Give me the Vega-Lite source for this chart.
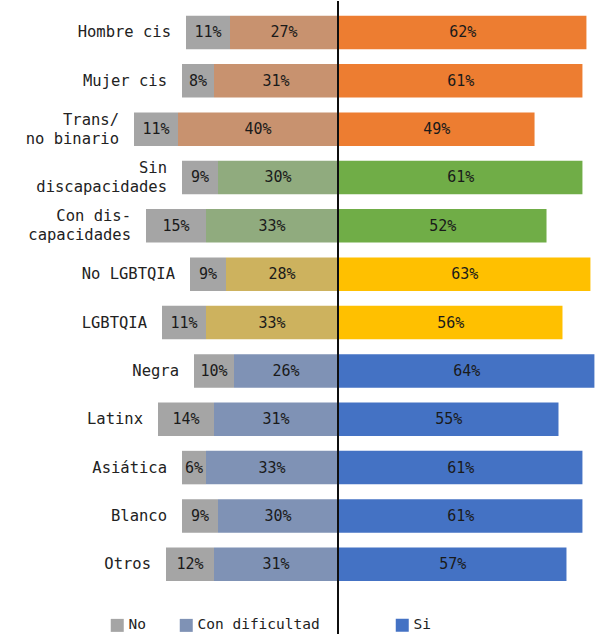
{
  "$schema": "https://vega.github.io/schema/vega-lite/v6.json",
  "padding": 0,
  "spacing": 0,
  "background": "white",
  "config": {"view": {"stroke": null}, "concat": {"spacing": 0}},
  "datasets": {
    "d": [
      {"cat": "Hombre cis", "resp": "No", "serie": "No", "pct": 0.11},
      {"cat": "Hombre cis", "resp": "Con dificultad", "serie": "CD Género", "pct": 0.27},
      {"cat": "Hombre cis", "resp": "Si", "serie": "Si Género", "pct": 0.62},
      {"cat": "Mujer cis", "resp": "No", "serie": "No", "pct": 0.08},
      {"cat": "Mujer cis", "resp": "Con dificultad", "serie": "CD Género", "pct": 0.31},
      {"cat": "Mujer cis", "resp": "Si", "serie": "Si Género", "pct": 0.61},
      {"cat": "Trans/\nno binario", "resp": "No", "serie": "No", "pct": 0.11},
      {"cat": "Trans/\nno binario", "resp": "Con dificultad", "serie": "CD Género", "pct": 0.40},
      {"cat": "Trans/\nno binario", "resp": "Si", "serie": "Si Género", "pct": 0.49},
      {"cat": "Sin\ndiscapacidades", "resp": "No", "serie": "No", "pct": 0.09},
      {"cat": "Sin\ndiscapacidades", "resp": "Con dificultad", "serie": "CD Discapacidad", "pct": 0.30},
      {"cat": "Sin\ndiscapacidades", "resp": "Si", "serie": "Si Discapacidad", "pct": 0.61},
      {"cat": "Con dis-\ncapacidades", "resp": "No", "serie": "No", "pct": 0.15},
      {"cat": "Con dis-\ncapacidades", "resp": "Con dificultad", "serie": "CD Discapacidad", "pct": 0.33},
      {"cat": "Con dis-\ncapacidades", "resp": "Si", "serie": "Si Discapacidad", "pct": 0.52},
      {"cat": "No LGBTQIA", "resp": "No", "serie": "No", "pct": 0.09},
      {"cat": "No LGBTQIA", "resp": "Con dificultad", "serie": "CD LGBTQIA", "pct": 0.28},
      {"cat": "No LGBTQIA", "resp": "Si", "serie": "Si LGBTQIA", "pct": 0.63},
      {"cat": "LGBTQIA", "resp": "No", "serie": "No", "pct": 0.11},
      {"cat": "LGBTQIA", "resp": "Con dificultad", "serie": "CD LGBTQIA", "pct": 0.33},
      {"cat": "LGBTQIA", "resp": "Si", "serie": "Si LGBTQIA", "pct": 0.56},
      {"cat": "Negra", "resp": "No", "serie": "No", "pct": 0.10},
      {"cat": "Negra", "resp": "Con dificultad", "serie": "Con dificultad", "pct": 0.26},
      {"cat": "Negra", "resp": "Si", "serie": "Si", "pct": 0.64},
      {"cat": "Latinx", "resp": "No", "serie": "No", "pct": 0.14},
      {"cat": "Latinx", "resp": "Con dificultad", "serie": "Con dificultad", "pct": 0.31},
      {"cat": "Latinx", "resp": "Si", "serie": "Si", "pct": 0.55},
      {"cat": "Asiática", "resp": "No", "serie": "No", "pct": 0.06},
      {"cat": "Asiática", "resp": "Con dificultad", "serie": "Con dificultad", "pct": 0.33},
      {"cat": "Asiática", "resp": "Si", "serie": "Si", "pct": 0.61},
      {"cat": "Blanco", "resp": "No", "serie": "No", "pct": 0.09},
      {"cat": "Blanco", "resp": "Con dificultad", "serie": "Con dificultad", "pct": 0.30},
      {"cat": "Blanco", "resp": "Si", "serie": "Si", "pct": 0.61},
      {"cat": "Otros", "resp": "No", "serie": "No", "pct": 0.12},
      {"cat": "Otros", "resp": "Con dificultad", "serie": "Con dificultad", "pct": 0.31},
      {"cat": "Otros", "resp": "Si", "serie": "Si", "pct": 0.57}
    ]
  },
  "resolve": {"scale": {"y": "shared", "x": "independent", "color": "independent"}, "legend": {"color": "independent"}},
  "hconcat": [
    {
      "width": 338,
      "height": 634,
      "data": {"name": "d"},
      "transform": [{"filter": "datum.resp != 'Si'"}],
      "layer": [
        {
          "mark": {"type": "bar"},
          "encoding": {
            "x": {"field": "pct", "type": "quantitative", "stack": "zero", "scale": {"domain": [0, 0.845], "reverse": true, "nice": false}, "axis": null},
            "y": {"field": "cat", "type": "nominal", "sort": null, "axis": null, "scale": {"paddingInner": 0.307, "paddingOuter": 0.71, "align": 0.214}},
            "color": {
              "field": "serie", "type": "nominal",
              "scale": {"domain": ["No", "Con dificultad", "CD Género", "CD Discapacidad", "CD LGBTQIA"], "range": ["#A5A5A5", "#7F92B5", "#C8926F", "#90AB7E", "#CDB25E"]},
              "legend": {"values": ["No", "Con dificultad"], "orient": "none", "legendX": 110, "legendY": 617, "direction": "horizontal", "title": null, "symbolType": "square", "symbolSize": 169, "symbolStrokeWidth": 0, "labelFont": "DejaVu Sans Mono", "labelFontSize": 14.5, "labelColor": "#222222", "columnPadding": 33, "labelOffset": 4, "padding": 0}
            },
            "order": {"field": "resp", "sort": "ascending"}
          }
        },
        {
          "mark": {"type": "text", "font": "DejaVu Sans Mono", "fontSize": 15, "color": "#1a1a1a", "baseline": "middle"},
          "encoding": {
            "x": {"field": "pct", "type": "quantitative", "stack": "zero", "bandPosition": 0.5},
            "y": {"field": "cat", "type": "nominal", "sort": null},
            "detail": {"field": "resp"},
            "order": {"field": "resp", "sort": "ascending"},
            "text": {"field": "pct", "type": "quantitative", "format": ".0%"}
          }
        },
        {
          "transform": [{"filter": "indexof(datum.cat, '\\n') < 0"}],
          "mark": {"type": "text", "font": "DejaVu Sans Mono", "fontSize": 15.5, "color": "#222222", "align": "right", "baseline": "middle", "dx": -15},
          "encoding": {
            "x": {"aggregate": "sum", "field": "pct", "type": "quantitative"},
            "y": {"field": "cat", "type": "nominal", "sort": null},
            "text": {"field": "cat"}
          }
        },
        {
          "transform": [{"filter": "indexof(datum.cat, '\\n') >= 0"}],
          "mark": {"type": "text", "font": "DejaVu Sans Mono", "fontSize": 15.5, "color": "#222222", "align": "right", "baseline": "middle", "dx": -15, "dy": -9.5, "lineBreak": "\n", "lineHeight": 19},
          "encoding": {
            "x": {"aggregate": "sum", "field": "pct", "type": "quantitative"},
            "y": {"field": "cat", "type": "nominal", "sort": null},
            "text": {"field": "cat"}
          }
        },
        {
          "mark": {"type": "rule", "color": "#111111", "strokeWidth": 1.4},
          "encoding": {"x": {"datum": 0, "type": "quantitative"}}
        }
      ]
    },
    {
      "width": 261,
      "height": 634,
      "data": {"name": "d"},
      "transform": [{"filter": "datum.resp == 'Si'"}],
      "layer": [
        {
          "mark": {"type": "bar"},
          "encoding": {
            "x": {"field": "pct", "type": "quantitative", "stack": "zero", "scale": {"domain": [0, 0.654], "nice": false}, "axis": null},
            "y": {"field": "cat", "type": "nominal", "sort": null, "axis": null},
            "color": {
              "field": "serie", "type": "nominal",
              "scale": {"domain": ["Si", "Si Género", "Si Discapacidad", "Si LGBTQIA"], "range": ["#4472C4", "#ED7D31", "#70AD47", "#FFC000"]},
              "legend": {"values": ["Si"], "orient": "none", "legendX": 56, "legendY": 617, "direction": "horizontal", "title": null, "symbolType": "square", "symbolSize": 169, "symbolStrokeWidth": 0, "labelFont": "DejaVu Sans Mono", "labelFontSize": 14.5, "labelColor": "#222222", "labelOffset": 4, "padding": 0}
            }
          }
        },
        {
          "mark": {"type": "text", "font": "DejaVu Sans Mono", "fontSize": 15, "color": "#1a1a1a", "baseline": "middle"},
          "encoding": {
            "x": {"field": "pct", "type": "quantitative", "stack": "zero", "bandPosition": 0.5},
            "y": {"field": "cat", "type": "nominal", "sort": null},
            "text": {"field": "pct", "type": "quantitative", "format": ".0%"}
          }
        }
      ]
    }
  ]
}
